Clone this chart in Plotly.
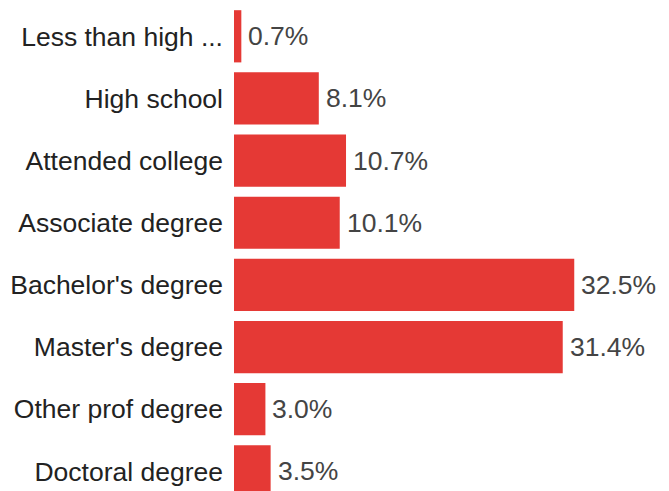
import plotly.graph_objects as go

# Highest level of education completed (share of respondents, %)
categories = [
    "Less than high ...",
    "High school",
    "Attended college",
    "Associate degree",
    "Bachelor's degree",
    "Master's degree",
    "Other prof degree",
    "Doctoral degree",
]
shares = [0.7, 8.1, 10.7, 10.1, 32.5, 31.4, 3.0, 3.5]
share_labels = [f"{v:.1f}%" for v in shares]

FONT = "Liberation Sans, Arial, sans-serif"

fig = go.Figure(
    go.Bar(
        x=shares,
        y=categories,
        orientation="h",
        marker=dict(color="#e53935", line=dict(width=0)),
        hoverinfo="skip",
    )
)

# value labels just past the end of each bar
for cat, val, lab in zip(categories, shares, share_labels):
    fig.add_annotation(
        x=val,
        y=cat,
        text=lab,
        showarrow=False,
        xanchor="left",
        yanchor="middle",
        xshift=5,
        font=dict(family=FONT, size=26.5, color="#444444"),
    )

fig.update_layout(
    width=669,
    height=491,
    margin=dict(l=234, r=0, t=0, b=0),
    paper_bgcolor="white",
    plot_bgcolor="white",
    bargap=0.16,
    showlegend=False,
    font=dict(family=FONT, size=26.5, color="#222222"),
    xaxis=dict(
        range=[0, 41.55],
        visible=False,
        showgrid=False,
        zeroline=False,
        fixedrange=True,
    ),
    yaxis=dict(
        range=[7.316, -0.584],
        showgrid=False,
        zeroline=False,
        showline=False,
        ticks="",
        ticklabelstandoff=10,
        automargin=False,
        tickfont=dict(family=FONT, size=26.5, color="#222222"),
        fixedrange=True,
    ),
)

fig.write_html("out.html", config={"displayModeBar": False})
